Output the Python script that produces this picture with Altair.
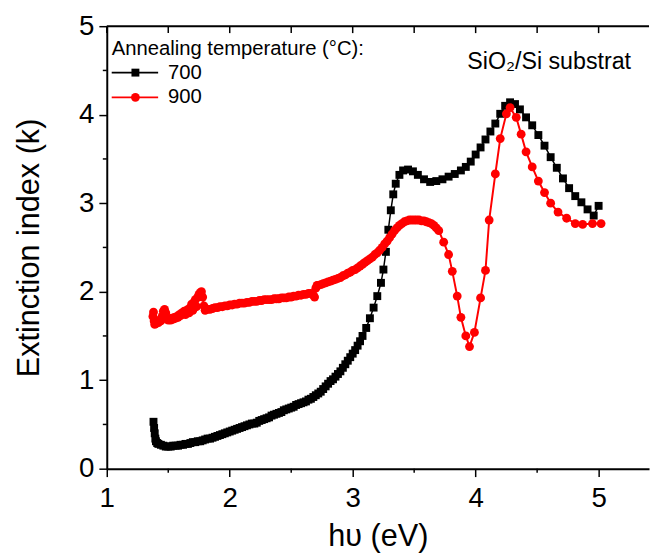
import altair as alt
import pandas as pd

# ---------------- data ----------------
series_names = ["700", "900"]
legend_title = "Annealing temperature (°C):"
annotation = "SiO₂/Si substrat"
x_title = "hυ (eV)"
y_title = "Extinction index (k)"

x_major = [1, 2, 3, 4, 5]
x_minor = [1.5, 2.5, 3.5, 4.5]
top_ticks = [1, 1.5, 2, 2.5, 3, 3.5, 4, 4.5, 5]
y_major = [0, 1, 2, 3, 4, 5]
y_minor = [0.5, 1.5, 2.5, 3.5, 4.5]

e700 = [1.38, 1.385, 1.39, 1.395, 1.40, 1.41, 1.42, 1.44, 1.46, 1.48, 1.50, 1.52, 1.54,
        1.56, 1.58, 1.60, 1.62, 1.64, 1.66, 1.68, 1.70, 1.72, 1.74, 1.76, 1.78, 1.80,
        1.82, 1.84, 1.86, 1.88, 1.90, 1.92, 1.94, 1.96, 1.98, 2.00, 2.02, 2.04, 2.06,
        2.08, 2.10, 2.12, 2.14, 2.16, 2.18, 2.20, 2.22, 2.24, 2.26, 2.28, 2.30, 2.32,
        2.34, 2.36, 2.38, 2.40, 2.42, 2.44, 2.46, 2.48, 2.50, 2.52, 2.54, 2.56, 2.58,
        2.60, 2.62, 2.64, 2.66, 2.68, 2.70, 2.72, 2.74, 2.76, 2.78, 2.80, 2.82, 2.84,
        2.86, 2.88, 2.90, 2.92, 2.94, 2.96, 2.98, 3.00, 3.02, 3.04, 3.06, 3.08,
        3.11, 3.14, 3.17, 3.20, 3.23, 3.25, 3.27, 3.29, 3.31, 3.33, 3.35, 3.38,
        3.41, 3.45, 3.49, 3.53, 3.58, 3.63, 3.68, 3.73, 3.78, 3.83, 3.88, 3.92, 3.96,
        4.00, 4.04, 4.08, 4.12, 4.16, 4.20, 4.24, 4.28, 4.32, 4.36, 4.41, 4.46, 4.51,
        4.56, 4.61, 4.66, 4.71, 4.76, 4.81, 4.86, 4.91, 4.96, 5.00]
k700 = [0.53, 0.46, 0.40, 0.34, 0.31, 0.29, 0.28, 0.27, 0.26, 0.25, 0.25, 0.25, 0.26,
        0.26, 0.26, 0.27, 0.27, 0.28, 0.28, 0.29, 0.30, 0.30, 0.31, 0.31, 0.32, 0.33,
        0.34, 0.34, 0.35, 0.36, 0.37, 0.38, 0.39, 0.40, 0.41, 0.42, 0.43, 0.44, 0.45,
        0.46, 0.47, 0.48, 0.49, 0.50, 0.51, 0.51, 0.52, 0.54, 0.55, 0.56, 0.57, 0.58,
        0.60, 0.61, 0.62, 0.63, 0.64, 0.66, 0.67, 0.68, 0.69, 0.70, 0.72, 0.73, 0.74,
        0.75, 0.76, 0.78, 0.79, 0.81, 0.83, 0.85, 0.87, 0.90, 0.93, 0.96, 0.99, 1.01,
        1.04, 1.07, 1.10, 1.14, 1.18, 1.22, 1.26, 1.30, 1.34, 1.39, 1.44, 1.50,
        1.59, 1.70, 1.82, 1.95, 2.10, 2.25, 2.45, 2.70, 2.92, 3.10, 3.22, 3.32,
        3.37, 3.38, 3.36, 3.32, 3.27, 3.24, 3.25, 3.27, 3.30, 3.33, 3.37, 3.41, 3.47,
        3.55, 3.63, 3.72, 3.81, 3.90, 4.01, 4.10, 4.14, 4.12, 4.06, 3.97, 3.88, 3.77,
        3.65, 3.52, 3.40, 3.28, 3.17, 3.08, 3.01, 2.93, 2.86, 2.97]

e900 = [1.375, 1.38, 1.385, 1.39, 1.40, 1.41, 1.42, 1.43, 1.44, 1.45, 1.46, 1.47, 1.48,
        1.49, 1.50, 1.51, 1.52, 1.53, 1.54, 1.55, 1.56, 1.57, 1.58, 1.59, 1.60, 1.61,
        1.62, 1.63, 1.64, 1.65, 1.66, 1.67, 1.68, 1.69, 1.70, 1.71, 1.72, 1.73, 1.74,
        1.75, 1.76, 1.77, 1.78, 1.79, 1.80, 1.82, 1.84, 1.86, 1.88, 1.90, 1.92, 1.94,
        1.96, 1.98, 2.00, 2.02, 2.04, 2.06, 2.08, 2.10, 2.12, 2.14, 2.16, 2.18, 2.20,
        2.22, 2.24, 2.26, 2.28, 2.30, 2.32, 2.34, 2.36, 2.38, 2.40, 2.42, 2.44, 2.46,
        2.48, 2.50, 2.52, 2.54, 2.56, 2.58, 2.60, 2.62, 2.64, 2.66, 2.68, 2.69, 2.70,
        2.71, 2.72, 2.74, 2.76, 2.78, 2.80, 2.82, 2.84, 2.86, 2.88, 2.90, 2.92, 2.94,
        2.96, 2.98, 3.00, 3.02, 3.04, 3.06, 3.08, 3.10, 3.12, 3.14, 3.16, 3.18, 3.20,
        3.22, 3.24, 3.26, 3.28, 3.30, 3.32, 3.34, 3.36, 3.38, 3.40, 3.42, 3.44, 3.46,
        3.48, 3.50, 3.52, 3.54, 3.56, 3.58, 3.60, 3.62, 3.64, 3.66, 3.68, 3.70,
        3.74, 3.78, 3.81, 3.85, 3.88, 3.92, 3.95, 3.99, 4.04, 4.08, 4.11, 4.16, 4.20,
        4.25, 4.28, 4.33, 4.37, 4.41, 4.46, 4.51, 4.56, 4.61, 4.67, 4.74, 4.81, 4.87,
        4.95, 5.02]
k900 = [1.72, 1.77, 1.67, 1.63, 1.64, 1.66, 1.65, 1.68, 1.67, 1.72, 1.78, 1.80, 1.76,
        1.70, 1.68, 1.69, 1.68, 1.70, 1.69, 1.71, 1.70, 1.72, 1.71, 1.74, 1.73, 1.76,
        1.75, 1.78, 1.74, 1.77, 1.80, 1.76, 1.82, 1.86, 1.79, 1.88, 1.91, 1.83, 1.94,
        1.97, 1.99, 2.00, 1.94, 1.84, 1.79, 1.80, 1.80, 1.81, 1.82, 1.82, 1.83, 1.83,
        1.84, 1.84, 1.85, 1.85, 1.86, 1.86, 1.87, 1.87, 1.87, 1.88, 1.88, 1.89, 1.89,
        1.89, 1.90, 1.90, 1.91, 1.91, 1.91, 1.91, 1.92, 1.92, 1.92, 1.93, 1.93, 1.93,
        1.94, 1.94, 1.95, 1.95, 1.96, 1.96, 1.97, 1.97, 1.98, 1.98, 1.96, 1.94, 2.04,
        2.07, 2.07, 2.08, 2.09, 2.10, 2.11, 2.12, 2.13, 2.14, 2.15, 2.16, 2.18, 2.19,
        2.21, 2.22, 2.24, 2.25, 2.27, 2.29, 2.31, 2.33, 2.35, 2.37, 2.39, 2.42, 2.44,
        2.47, 2.50, 2.54, 2.57, 2.61, 2.65, 2.69, 2.72, 2.75, 2.77, 2.79, 2.80, 2.81,
        2.81, 2.81, 2.81, 2.81, 2.80, 2.80, 2.79, 2.78, 2.77, 2.75, 2.72, 2.69,
        2.56, 2.42, 2.23, 1.95, 1.71, 1.50, 1.38, 1.54, 1.93, 2.24, 2.81, 3.33, 3.73,
        4.01, 4.08, 3.97, 3.78, 3.58, 3.41, 3.25, 3.12, 3.00, 2.90, 2.83, 2.77, 2.76,
        2.77, 2.77]

# ---------------- layout / style ----------------
FONT = "Liberation Sans"
W, H = 549, 448
xs = alt.Scale(domain=[1, 5.41], nice=False, zero=False)
ys = alt.Scale(domain=[0, 5], nice=False, zero=False)

df700 = pd.DataFrame({"E": e700, "k": k700})
df900 = pd.DataFrame({"E": e900, "k": k900})

x_axis = alt.Axis(values=x_major, format="d", title=x_title, grid=False,
                  labelFont=FONT, labelFontSize=28, labelColor="black", labelPadding=8,
                  labelFlush=False, labelOverlap=False,
                  titleFont=FONT, titleFontSize=31, titleFontWeight="normal",
                  titleColor="black", titlePadding=10,
                  tickSize=8, tickWidth=1.5, tickColor="black",
                  domainColor="black", domainWidth=2)
y_axis = alt.Axis(values=y_major, format="d", title=y_title, grid=False,
                  labelFont=FONT, labelFontSize=28, labelColor="black", labelPadding=5,
                  labelFlush=False, labelOverlap=False,
                  titleFont=FONT, titleFontSize=31, titleFontWeight="normal",
                  titleColor="black", titlePadding=34,
                  tickSize=8, tickWidth=1.5, tickColor="black",
                  domainColor="black", domainWidth=2)

black_line = alt.Chart(df700).mark_line(color="black", strokeWidth=1.5).encode(
    x=alt.X("E:Q", scale=xs, axis=x_axis),
    y=alt.Y("k:Q", scale=ys, axis=y_axis),
)
black_pts = alt.Chart(df700).mark_point(shape="square", filled=True, size=64,
                                        color="black", opacity=1).encode(
    x=alt.X("E:Q", scale=xs), y=alt.Y("k:Q", scale=ys))
red_line = alt.Chart(df900).mark_line(color="#ff0000", strokeWidth=2).encode(
    x=alt.X("E:Q", scale=xs), y=alt.Y("k:Q", scale=ys))
red_pts = alt.Chart(df900).mark_point(shape="circle", filled=True, size=80,
                                      color="#ff0000", opacity=1).encode(
    x=alt.X("E:Q", scale=xs), y=alt.Y("k:Q", scale=ys))

# frame pieces / minor ticks
one = pd.DataFrame({"a": [0]})
top_line = alt.Chart(one).mark_rule(color="black", strokeWidth=2).encode(
    x=alt.value(0), x2=alt.value(W), y=alt.value(0))
top_t = alt.Chart(pd.DataFrame({"E": top_ticks})).mark_rule(color="black", strokeWidth=1.5).encode(
    x=alt.X("E:Q", scale=xs), y=alt.value(0), y2=alt.value(7))
bot_minor = alt.Chart(pd.DataFrame({"E": x_minor})).mark_rule(color="black", strokeWidth=1.5).encode(
    x=alt.X("E:Q", scale=xs), y=alt.value(H), y2=alt.value(H + 4))
left_minor = alt.Chart(pd.DataFrame({"k": y_minor})).mark_rule(color="black", strokeWidth=1.5).encode(
    y=alt.Y("k:Q", scale=ys), x=alt.value(-4), x2=alt.value(0))

# manual legend
leg_title = alt.Chart(one).mark_text(text=legend_title, font=FONT, fontSize=20.5,
                                     align="left", baseline="alphabetic", color="black").encode(
    x=alt.value(5), y=alt.value(29))
legend_layers = []
for name, col, shp, sz, yy in [(series_names[0], "black", "square", 64, 47),
                               (series_names[1], "#ff0000", "circle", 80, 72)]:
    legend_layers.append(alt.Chart(one).mark_rule(color=col, strokeWidth=1.8).encode(
        x=alt.value(5), x2=alt.value(52), y=alt.value(yy)))
    legend_layers.append(alt.Chart(one).mark_point(shape=shp, filled=True, size=sz,
                                                   color=col, opacity=1).encode(
        x=alt.value(29), y=alt.value(yy)))
    legend_layers.append(alt.Chart(one).mark_text(text=name, font=FONT, fontSize=20.5,
                                                  align="left", baseline="middle",
                                                  color="black").encode(
        x=alt.value(62), y=alt.value(yy)))

annot = alt.Chart(one).mark_text(text=annotation, font=FONT, fontSize=23.5,
                                 align="left", baseline="alphabetic", color="black").encode(
    x=alt.value(365), y=alt.value(43))

chart = alt.layer(
    black_line, black_pts, red_line, red_pts,
    top_line, top_t, bot_minor, left_minor,
    leg_title, *legend_layers, annot,
).properties(
    width=W, height=H,
    padding={"left": 100, "top": 15, "right": 2, "bottom": 87},
    autosize=alt.AutoSizeParams(type="none"),
    background="white",
).configure_view(stroke=None)

chart.save("out.html", embed_options={"renderer": "svg", "actions": False})
